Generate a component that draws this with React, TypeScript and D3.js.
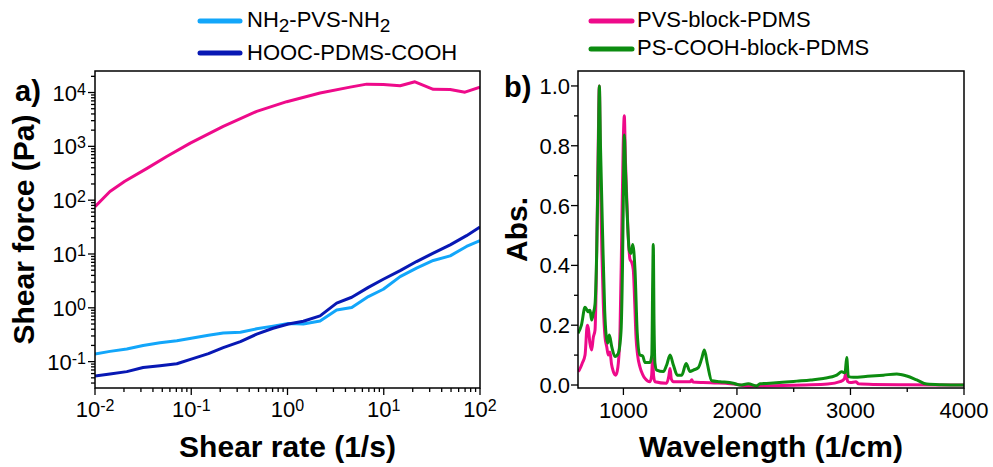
import React from 'react';
import * as d3 from 'd3';

// ---------- Panel a data (rheology) ----------
const shearRate = [0.01, 0.0143, 0.0214, 0.0316, 0.0473, 0.0708, 0.1, 0.151, 0.215, 0.324, 0.479, 0.708, 1.02, 1.46, 2.18, 3.24, 4.65, 6.92, 9.89, 14.8, 21.9, 32.7, 49.0, 72.4, 100];
const nh2PvsNh2 = [0.139, 0.155, 0.172, 0.2, 0.224, 0.245, 0.272, 0.309, 0.339, 0.351, 0.407, 0.457, 0.513, 0.501, 0.569, 0.912, 1.01, 1.62, 2.21, 3.8, 5.45, 7.59, 9.23, 13.8, 17.8];
const hoocPdmsCooh = [0.0542, 0.0589, 0.0652, 0.0776, 0.0841, 0.0912, 0.111, 0.141, 0.182, 0.236, 0.324, 0.417, 0.501, 0.562, 0.708, 1.22, 1.57, 2.4, 3.39, 4.9, 7.24, 10.4, 14.8, 21.9, 31.6];
const pvsRate = [0.01, 0.0143, 0.0204, 0.0347, 0.0556, 0.0977, 0.215, 0.479, 0.982, 2.18, 4.47, 6.65, 9.89, 14.8, 21.1, 32.7, 49.0, 69.8, 100];
const pvsBlockPdmsForce = [75.9, 145, 224, 389, 646, 1148, 2344, 4467, 6761, 9772, 12589, 14322, 14125, 13335, 15849, 11482, 11376, 10162, 12589];

// ---------- Panel b data (IR spectra) ----------
const wnPvs = [600, 611, 640, 662, 682, 691, 705, 720, 735, 750, 765, 778, 788, 798, 810, 823, 838, 853, 867, 882, 895, 911, 932, 945, 955, 970, 985, 998, 1008, 1018, 1029, 1045, 1058, 1073, 1087, 1100, 1111, 1125, 1146, 1170, 1190, 1234, 1248, 1258, 1266, 1278, 1381, 1400, 1411, 1422, 1440, 1590, 1602, 1612, 1700, 1800, 1900, 2000, 2100, 2200, 2400, 2600, 2800, 2908, 2945, 2961, 2975, 3000, 3049, 3070, 3200, 3500, 4000];
const absPvs = [0.045, 0.05, 0.075, 0.1, 0.2, 0.19, 0.14, 0.117, 0.16, 0.184, 0.45, 0.8, 1.0, 0.7, 0.45, 0.27, 0.16, 0.128, 0.1, 0.11, 0.07, 0.045, 0.033, 0.045, 0.072, 0.18, 0.5, 0.8, 0.9, 0.75, 0.63, 0.48, 0.42, 0.41, 0.385, 0.27, 0.16, 0.1, 0.06, 0.035, 0.022, 0.011, 0.03, 0.09, 0.03, 0.011, 0.006, 0.03, 0.055, 0.02, 0.011, 0.011, 0.018, 0.01, 0.008, 0.007, 0.006, 0.002, -0.004, -0.003, -0.002, 0.0, 0.003, 0.011, 0.02, 0.041, 0.012, 0.008, 0.011, 0.004, 0.002, 0.001, 0.0];

const wnPsCooh = [600, 630, 662, 690, 706, 720, 735, 750, 765, 778, 788, 798, 817, 835, 847, 862, 876, 897, 926, 955, 979, 992, 1000, 1008, 1018, 1029, 1052, 1067, 1082, 1102, 1122, 1146, 1170, 1190, 1234, 1250, 1258, 1263, 1270, 1278, 1293, 1352, 1381, 1411, 1440, 1475, 1514, 1552, 1587, 1616, 1660, 1690, 1713, 1739, 1778, 1851, 1968, 2027, 2100, 2174, 2203, 2292, 2400, 2527, 2650, 2761, 2879, 2923, 2952, 2967, 2981, 3026, 3150, 3290, 3408, 3496, 3584, 3672, 3800, 4000];
const absPsCooh = [0.173, 0.2, 0.26, 0.245, 0.25, 0.217, 0.24, 0.27, 0.45, 0.75, 1.0, 0.8, 0.5, 0.25, 0.17, 0.14, 0.167, 0.128, 0.095, 0.106, 0.18, 0.4, 0.64, 0.836, 0.72, 0.61, 0.45, 0.44, 0.47, 0.385, 0.173, 0.1, 0.097, 0.075, 0.075, 0.1, 0.35, 0.47, 0.2, 0.072, 0.05, 0.045, 0.067, 0.1, 0.067, 0.033, 0.033, 0.072, 0.045, 0.05, 0.058, 0.089, 0.117, 0.072, 0.014, 0.011, 0.006, 0.0, 0.004, -0.003, 0.004, 0.006, 0.009, 0.013, 0.017, 0.022, 0.033, 0.044, 0.041, 0.092, 0.028, 0.026, 0.029, 0.033, 0.037, 0.03, 0.017, 0.003, 0.001, 0.0];

const aYTicks = [-1, 0, 1, 2, 3, 4];
const aXTicks = [-2, -1, 0, 1, 2];
const bXTicks = [1000, 2000, 3000, 4000];
const bXMinor = [1500, 2500, 3500];
const bYTicks = [0, 0.2, 0.4, 0.6, 0.8, 1.0];
const bYMinor = [0.1, 0.3, 0.5, 0.7, 0.9];

const C_LIGHT = '#12A6FA';
const C_DARK = '#0818B4';
const C_PINK = '#EE0A8A';
const C_GREEN = '#0C8C10';
const FONT = '"Liberation Sans", Arial, Helvetica, sans-serif';

const A = { x0: 95, x1: 480, y0: 71, y1: 388 };
const B = { x0: 578, x1: 964, y0: 71, y1: 388 };

function Sup({ base, exp, ...rest }: any) {
  return (
    <text {...rest}>
      {base}
      <tspan fontSize={16} dy={-6}>{exp}</tspan>
    </text>
  );
}

export default function App() {
  const ax = d3.scaleLog().domain([0.01, 100]).range([A.x0, A.x1]);
  const ay = d3.scaleLog().domain([Math.pow(10, -1.49), Math.pow(10, 4.4)]).range([A.y1, A.y0]);
  const bx = d3.scaleLinear().domain([600, 4000]).range([B.x0, B.x1]);
  const by = d3.scaleLinear().domain([-0.01, 1.05]).range([B.y1, B.y0]);

  const lineA = (xs: number[], ys: number[]) =>
    d3.line<number>().x((_, i) => ax(xs[i])).y((d) => ay(d))(ys) || '';
  const lineB = (xs: number[], ys: number[]) =>
    d3.line<number>().x((_, i) => bx(xs[i])).y((d) => by(d)).curve(d3.curveMonotoneX)(ys) || '';

  // log minor ticks
  const aYMinor: number[] = [];
  for (let k = -2; k <= 4; k++) for (let m = 2; m <= 9; m++) {
    const v = m * Math.pow(10, k);
    const [lo, hi] = ay.domain();
    if (v > lo && v < hi) aYMinor.push(v);
  }
  const aXMinor: number[] = [];
  for (let k = -2; k <= 1; k++) for (let m = 2; m <= 9; m++) aXMinor.push(m * Math.pow(10, k));

  return (
    <svg width={993} height={467} style={{ position: 'absolute', left: 0, top: 0, background: '#fff' }} fontFamily={FONT}>
      <defs>
        <clipPath id="clipA"><rect x={A.x0} y={A.y0} width={A.x1 - A.x0} height={A.y1 - A.y0} /></clipPath>
        <clipPath id="clipB"><rect x={B.x0} y={B.y0} width={B.x1 - B.x0} height={B.y1 - B.y0} /></clipPath>
      </defs>

      {/* Legends */}
      <g>
        <line x1={200} x2={240} y1={21} y2={21} stroke={C_LIGHT} strokeWidth={5} strokeLinecap="round" />
        <text x={247} y={27} fontSize={22}>NH<tspan fontSize={19} dy={5}>2</tspan><tspan dy={-5}>-PVS-NH</tspan><tspan fontSize={19} dy={5}>2</tspan></text>
        <line x1={200} x2={240} y1={53} y2={53} stroke={C_DARK} strokeWidth={5} strokeLinecap="round" />
        <text x={247} y={60} fontSize={22}>HOOC-PDMS-COOH</text>
        <line x1={591} x2={632} y1={21} y2={21} stroke={C_PINK} strokeWidth={5} strokeLinecap="round" />
        <text x={637} y={27} fontSize={22}>PVS-block-PDMS</text>
        <line x1={591} x2={632} y1={49} y2={49} stroke={C_GREEN} strokeWidth={5} strokeLinecap="round" />
        <text x={637} y={55} fontSize={22}>PS-COOH-block-PDMS</text>
      </g>

      {/* Panel a */}
      <g clipPath="url(#clipA)" fill="none" strokeWidth={3} strokeLinejoin="round">
        <path d={lineA(shearRate, nh2PvsNh2)} stroke={C_LIGHT} />
        <path d={lineA(shearRate, hoocPdmsCooh)} stroke={C_DARK} />
        <path d={lineA(pvsRate, pvsBlockPdmsForce)} stroke={C_PINK} />
      </g>
      <rect x={A.x0} y={A.y0} width={A.x1 - A.x0} height={A.y1 - A.y0} fill="none" stroke="#000" strokeWidth={1.5} />
      <g stroke="#000" strokeWidth={1.3}>
        {aYTicks.map((e) => <line key={'ym' + e} x1={A.x0 - 7} x2={A.x0} y1={ay(Math.pow(10, e))} y2={ay(Math.pow(10, e))} />)}
        {aYMinor.map((v, i) => <line key={'yn' + i} x1={A.x0 - 4} x2={A.x0} y1={ay(v)} y2={ay(v)} />)}
        {aXTicks.map((e) => <line key={'xm' + e} y1={A.y1} y2={A.y1 + 7} x1={ax(Math.pow(10, e))} x2={ax(Math.pow(10, e))} />)}
        {aXMinor.map((v, i) => <line key={'xn' + i} y1={A.y1} y2={A.y1 + 4} x1={ax(v)} x2={ax(v)} />)}
      </g>
      <g fontSize={22} fill="#000">
        {aYTicks.map((e) => <Sup key={'yl' + e} base="10" exp={String(e)} x={A.x0 - 9} y={ay(Math.pow(10, e)) + 8} textAnchor="end" />)}
        {aXTicks.map((e) => <Sup key={'xl' + e} base="10" exp={String(e)} x={ax(Math.pow(10, e))} y={417} textAnchor="middle" />)}
      </g>
      <text x={(A.x0 + A.x1) / 2} y={457} fontSize={30} fontWeight="bold" textAnchor="middle">Shear rate (1/s)</text>
      <text transform={`translate(34, ${(A.y0 + A.y1) / 2}) rotate(-90)`} fontSize={30} fontWeight="bold" textAnchor="middle">Shear force (Pa)</text>
      <text x={15} y={101} fontSize={29} fontWeight="bold">a)</text>

      {/* Panel b */}
      <g clipPath="url(#clipB)" fill="none" strokeWidth={3} strokeLinejoin="round">
        <path d={lineB(wnPvs, absPvs)} stroke={C_PINK} />
        <path d={lineB(wnPsCooh, absPsCooh)} stroke={C_GREEN} />
      </g>
      <rect x={B.x0} y={B.y0} width={B.x1 - B.x0} height={B.y1 - B.y0} fill="none" stroke="#000" strokeWidth={1.5} />
      <g stroke="#000" strokeWidth={1.3}>
        {bYTicks.map((v) => <line key={'bym' + v} x1={B.x0 - 7} x2={B.x0} y1={by(v)} y2={by(v)} />)}
        {bYMinor.map((v) => <line key={'byn' + v} x1={B.x0 - 4} x2={B.x0} y1={by(v)} y2={by(v)} />)}
        {bXTicks.map((v) => <line key={'bxm' + v} y1={B.y1} y2={B.y1 + 7} x1={bx(v)} x2={bx(v)} />)}
        {bXMinor.map((v) => <line key={'bxn' + v} y1={B.y1} y2={B.y1 + 4} x1={bx(v)} x2={bx(v)} />)}
      </g>
      <g fontSize={22} fill="#000">
        {bYTicks.map((v) => <text key={'byl' + v} x={B.x0 - 8} y={by(v) + 8} textAnchor="end">{v.toFixed(1)}</text>)}
        {bXTicks.map((v) => <text key={'bxl' + v} x={bx(v)} y={418} textAnchor="middle">{v}</text>)}
      </g>
      <text x={(B.x0 + B.x1) / 2} y={457} fontSize={30} fontWeight="bold" textAnchor="middle">Wavelength (1/cm)</text>
      <text transform={`translate(527, ${(B.y0 + B.y1) / 2}) rotate(-90)`} fontSize={30} fontWeight="bold" textAnchor="middle">Abs.</text>
      <text x={504} y={97} fontSize={29} fontWeight="bold">b)</text>
    </svg>
  );
}
